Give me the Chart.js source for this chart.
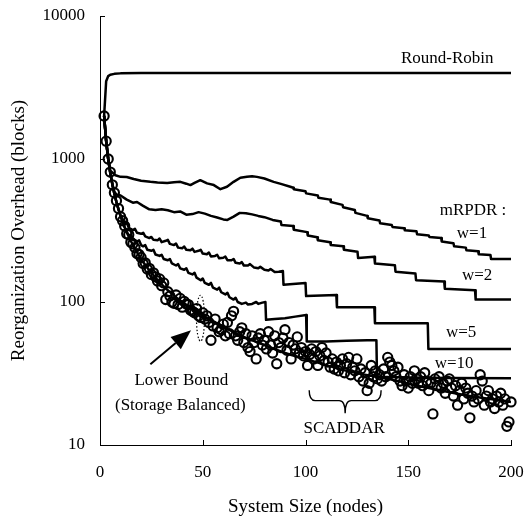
<!DOCTYPE html>
<html>
<head>
<meta charset="utf-8">
<script src="https://cdn.jsdelivr.net/npm/chart.js@4.4.0/dist/chart.umd.min.js"></script>
<style>
  html, body { margin: 0; padding: 0; background: #fff; }
  #wrap { width: 527px; height: 522px; }
</style>
</head>
<body>
<div id="wrap"><canvas id="chart" width="527" height="522"></canvas></div>
<script>
// Reorganization overhead vs system size (log y)

const xTicks = [0, 50, 100, 150, 200];
const yTicks = [10, 100, 1000, 10000];

// SCADDAR: one circle per system size
const nodes = [
  2, 3, 4, 5, 6, 7, 8, 9, 10,
  11, 12, 13, 14, 15, 16, 17, 18, 19, 20,
  21, 22, 23, 24, 25, 26, 27, 28, 29, 30,
  31, 32, 33, 34, 35, 36, 37, 38, 39, 40,
  41, 42, 43, 44, 45, 46, 47, 48, 49, 50,
  51, 52, 53, 54, 55, 56, 57, 58, 59, 60,
  61, 62, 63, 64, 65, 66, 67, 68, 69, 70,
  71, 72, 73, 74, 75, 76, 77, 78, 79, 80,
  81, 82, 83, 84, 85, 86, 87, 88, 89, 90,
  91, 92, 93, 94, 95, 96, 97, 98, 99, 100,
  101, 102, 103, 104, 105, 106, 107, 108, 109, 110,
  111, 112, 113, 114, 115, 116, 117, 118, 119, 120,
  121, 122, 123, 124, 125, 126, 127, 128, 129, 130,
  131, 132, 133, 134, 135, 136, 137, 138, 139, 140,
  141, 142, 143, 144, 145, 146, 147, 148, 149, 150,
  151, 152, 153, 154, 155, 156, 157, 158, 159, 160,
  161, 162, 163, 164, 165, 166, 167, 168, 169, 170,
  171, 172, 173, 174, 175, 176, 177, 178, 179, 180,
  181, 182, 183, 184, 185, 186, 187, 188, 189, 190,
  191, 192, 193, 194, 195, 196, 197, 198, 199, 200
];
const scaddar = [
  2000, 1333, 1000, 810, 660, 580, 510, 450, 395,
  370, 340, 300, 295, 262, 255, 240, 218, 215, 205,
  186, 188, 170, 172, 156, 160, 150, 140, 145, 130,
  136, 104, 118, 110, 100, 98, 112, 96, 106, 92,
  101, 97, 96, 88, 86, 84, 90, 80, 78, 84,
  76, 80, 72, 54, 68, 76, 66, 62, 64, 70,
  58, 72, 60, 80, 86, 58, 54, 62, 66, 52,
  60, 48, 45, 58, 52, 40, 56, 60, 50, 54,
  47, 62, 50, 44, 58, 37, 52, 48, 56, 64,
  46, 52, 40, 50, 47, 57, 44, 48, 42, 45,
  36, 43, 47, 40, 45, 36, 42, 48, 39, 44,
  38, 35, 40, 34, 38, 33, 36, 40, 32, 37,
  41, 31, 35, 33, 40, 30, 34, 28, 32, 24,
  27, 36, 30, 33, 29, 31, 28, 34, 30, 41,
  38, 36, 33, 30, 35, 28, 26, 31, 28, 25,
  30, 27, 33, 29, 27, 30, 26, 32, 28, 24,
  27, 16.5, 29, 26, 30, 25, 27, 23, 28, 29,
  25, 22, 26, 19, 24, 27, 21, 25, 23, 15.5,
  22, 20, 24, 21, 31, 28, 19, 22, 24, 20,
  21, 18, 22, 20, 23, 19, 21, 13.5, 14.5, 20
];

// curves as [nodes, blocks]
const roundRobin = [[2, 2000], [3, 3500], [4, 3800], [5, 3880], [7, 3940], [10, 3970], [20, 4000], [200, 4000]];

const lowerBound = [[2, 2000], [3, 1333], [4, 1000], [5, 800], [6, 667], [7, 571], [8, 500], [10, 400], [12, 333],
  [15, 267], [20, 200], [25, 160], [30, 133], [35, 114], [40, 100], [45, 89], [50, 80], [60, 67], [70, 57],
  [80, 50], [90, 44], [100, 40], [120, 33], [140, 29], [160, 25], [180, 22], [200, 20]];

const mrpdrW1 = [[2, 2000], [3, 1333], [4, 1000], [5, 830], [7.5, 770], [10, 750], [13, 748], [16.4, 725], [20, 705],
  [24.5, 692], [28, 685], [32.7, 680], [36, 688], [39.1, 692], [42, 672], [44, 657], [46, 680], [48.8, 711],
  [52.1, 675], [55.4, 657], [58.6, 615], [61.8, 640], [65, 692], [68.3, 740], [71.5, 752], [74, 758], [76.4, 750],
  [80, 730], [84.5, 692], [88, 670], [92.6, 640], [94, 630], [94.3, 615], [100, 595], [100.3, 575], [106, 555],
  [106.3, 535], [112, 520], [112.3, 500], [118, 478], [118.3, 460], [124, 440], [124.3, 420], [130, 400],
  [130.3, 385], [136, 372], [136.3, 355], [142, 345], [142.3, 335], [148, 328], [148.3, 318], [154, 312],
  [154.3, 298], [160, 292], [160.3, 285], [166, 280], [166.3, 265], [172, 258], [172.3, 245], [178, 240],
  [178.3, 230], [184, 226], [184.3, 216], [190, 213], [190.3, 200], [200, 200]];

const mrpdrW2 = [[2, 2000], [3, 1333], [4, 1000], [5, 800], [6, 667], [7, 590], [8, 565], [10, 555], [13, 520],
  [16, 495], [18, 500], [21, 470], [24, 445], [27, 440], [30, 445], [33, 438], [36, 425], [39, 430], [42, 408],
  [45, 412], [48, 425], [51, 415], [54, 400], [57, 390], [60, 378], [62, 375], [65, 395], [68, 420], [71, 418],
  [74, 410], [77, 400], [80, 392], [84, 375], [88, 365], [88.3, 345], [94, 340], [94.3, 320], [100.8, 308],
  [101.1, 292], [105.7, 284], [106, 270], [112, 262], [112.3, 250], [118.4, 245], [118.7, 232], [125.3, 225],
  [125.6, 203], [133.5, 207], [133.8, 186], [143.5, 181], [143.8, 163], [153.5, 158], [153.8, 142], [167.5, 139],
  [167.8, 124], [182.5, 121], [182.8, 104], [200, 104]];

const mrpdrW5 = [[2, 2000], [3, 1333], [4, 1000], [5, 800], [6, 667], [7, 571], [8, 500], [9, 445], [10, 400],
  [11, 380], [12, 355], [13, 360], [14, 330], [16, 318], [17, 325], [18, 305], [20, 300], [21, 305], [22, 288],
  [24, 280], [25, 285], [26, 272], [28, 270], [29, 278], [30, 262], [32, 268], [33, 272], [34, 255], [36, 250],
  [37, 256], [38, 240], [40, 238], [41, 244], [42, 232], [44, 230], [45, 236], [46, 224], [48, 228], [49, 232],
  [50, 218], [52, 216], [53, 222], [54, 208], [56, 210], [57, 214], [58, 202], [60, 204], [61, 208], [62, 196],
  [64, 196], [65, 200], [66, 188], [68, 186], [69, 190], [70, 180], [72, 180], [73, 184], [75, 174], [77, 172],
  [78, 176], [80, 168], [82, 166], [83, 170], [85, 162], [87, 163], [89, 165], [89.3, 132], [100, 136],
  [100.3, 110], [115, 112], [115.3, 92], [133.5, 92], [133.8, 71], [159.5, 71], [159.8, 47], [200, 47]];

const mrpdrW10 = [[2, 2000], [3, 1333], [4, 1000], [5, 800], [6, 667], [7, 571], [8, 500], [9, 444], [10, 400],
  [11, 364], [12, 333], [13, 310], [14, 292], [15, 295], [16, 272], [18, 265], [19, 270], [20, 250], [21, 245],
  [22, 250], [23, 232], [25, 228], [26, 232], [27, 215], [29, 210], [30, 214], [31, 200], [33, 196], [34, 200],
  [35, 186], [37, 180], [38, 184], [39, 172], [41, 168], [42, 172], [43, 160], [45, 156], [46, 160], [47, 148],
  [49, 142], [50, 146], [51, 136], [53, 132], [54, 136], [55, 126], [57, 122], [58, 126], [59, 117], [61, 113],
  [62, 116], [63, 108], [65, 104], [66, 107], [67, 100], [69, 97], [71, 99], [72, 96], [74, 97], [76, 100],
  [77, 97], [79, 99], [80.5, 100], [80.8, 75], [85, 76], [90, 77], [95, 79], [100.3, 81], [100.6, 53], [110, 53],
  [120, 53.5], [130, 54], [134.5, 54], [134.8, 30], [150, 29.6], [170, 29.4], [200, 29.3]];

const serif = '"Liberation Serif", "Times New Roman", serif';

// texts placed in data coordinates
const notes = [
  { text: 'Round-Robin', x: 169, y: 5080 },
  { text: 'mRPDR :', x: 181.5, y: 439 },
  { text: 'w=1', x: 181, y: 303 },
  { text: 'w=2', x: 183.5, y: 154 },
  { text: 'w=5', x: 175.7, y: 61.5 },
  { text: 'w=10', x: 172.3, y: 37.3 },
  { text: 'Lower Bound', x: 39.6, y: 28.4 },
  { text: '(Storage Balanced)', x: 39.1, y: 19 },
  { text: 'SCADDAR', x: 118.8, y: 13.1 }
];

function curve(label, pts, smooth) {
  return {
    label: label,
    data: pts.map(p => ({ x: p[0], y: p[1] })),
    borderColor: '#000',
    borderWidth: 2.5,
    borderJoinStyle: 'round',
    pointRadius: 0,
    fill: false,
    tension: 0,
    cubicInterpolationMode: smooth ? 'monotone' : 'default'
  };
}

const extras = {
  id: 'extras',
  afterDatasetsDraw(chart) {
    const { ctx, chartArea: area } = chart;
    const sx = chart.scales.x, sy = chart.scales.y;
    ctx.save();
    ctx.strokeStyle = '#000';
    ctx.fillStyle = '#000';
    ctx.lineWidth = 1;

    // inward tick marks
    yTicks.forEach(v => {
      const py = Math.round(sy.getPixelForValue(v)) + 0.5;
      ctx.beginPath();
      ctx.moveTo(area.left, py);
      ctx.lineTo(area.left + 5, py);
      ctx.stroke();
    });
    xTicks.slice(1).forEach(v => {
      const px = Math.round(sx.getPixelForValue(v)) + 0.5;
      ctx.beginPath();
      ctx.moveTo(px, area.bottom);
      ctx.lineTo(px, area.bottom - 5);
      ctx.stroke();
    });

    // labels
    ctx.font = '17px ' + serif;
    ctx.textAlign = 'center';
    ctx.textBaseline = 'middle';
    notes.forEach(n => ctx.fillText(n.text, sx.getPixelForValue(n.x), sy.getPixelForValue(n.y)));

    // arrow to the lower bound
    const ax0 = sx.getPixelForValue(24.5), ay0 = sy.getPixelForValue(36.7);
    const ax1 = sx.getPixelForValue(44.3), ay1 = sy.getPixelForValue(63.5);
    const ang = Math.atan2(ay1 - ay0, ax1 - ax0);
    const hl = 20, hw = 8;
    const bx = ax1 - hl * Math.cos(ang), by = ay1 - hl * Math.sin(ang);
    ctx.lineWidth = 2;
    ctx.beginPath();
    ctx.moveTo(ax0, ay0);
    ctx.lineTo(bx, by);
    ctx.stroke();
    ctx.beginPath();
    ctx.moveTo(ax1, ay1);
    ctx.lineTo(bx + hw * Math.sin(ang), by - hw * Math.cos(ang));
    ctx.lineTo(bx - hw * Math.sin(ang), by + hw * Math.cos(ang));
    ctx.closePath();
    ctx.fill();

    // brace over SCADDAR
    const xl = sx.getPixelForValue(101.8), xr = sx.getPixelForValue(136.8), xm = (xl + xr) / 2;
    const yTop = sy.getPixelForValue(24.1), yTip = sy.getPixelForValue(16.7);
    const yBar = yTop + (yTip - yTop) * 0.45;
    ctx.lineWidth = 1.4;
    ctx.beginPath();
    ctx.moveTo(xl, yTop);
    ctx.quadraticCurveTo(xl, yBar, xl + 6, yBar);
    ctx.lineTo(xm - 6, yBar);
    ctx.quadraticCurveTo(xm, yBar, xm, yTip);
    ctx.quadraticCurveTo(xm, yBar, xm + 6, yBar);
    ctx.lineTo(xr - 6, yBar);
    ctx.quadraticCurveTo(xr, yBar, xr, yTop);
    ctx.stroke();

    // dotted ellipse near 50 nodes
    ctx.lineWidth = 1.2;
    ctx.setLineDash([1.5, 2]);
    ctx.beginPath();
    ctx.ellipse(sx.getPixelForValue(48.9), sy.getPixelForValue(77), 4, 23, 0, 0, Math.PI * 2);
    ctx.stroke();
    ctx.restore();
  }
};

new Chart(document.getElementById('chart'), {
  type: 'line',
  data: {
    datasets: [
      {
        label: 'SCADDAR',
        data: scaddar.map((v, i) => ({ x: nodes[i], y: v })),
        showLine: false,
        pointStyle: 'circle',
        pointRadius: 4.6,
        pointBorderWidth: 2.1,
        pointBorderColor: '#000',
        pointBackgroundColor: 'rgba(0,0,0,0)',
        clip: 10
      },
      curve('Round-Robin', roundRobin),
      curve('Lower Bound', lowerBound, true),
      curve('w=1', mrpdrW1),
      curve('w=2', mrpdrW2),
      curve('w=5', mrpdrW5),
      curve('w=10', mrpdrW10)
    ]
  },
  options: {
    responsive: false,
    animation: false,
    devicePixelRatio: 1,
    layout: { padding: { top: 16, right: 16, left: 0, bottom: 0 } },
    plugins: { legend: { display: false }, tooltip: { enabled: false } },
    scales: {
      x: {
        type: 'linear',
        min: 0,
        max: 200,
        afterBuildTicks: axis => { axis.ticks = xTicks.map(v => ({ value: v })); },
        afterFit: scale => { scale.height = 77; scale.paddingLeft = 0; scale.paddingRight = 0; },
        grid: { display: false },
        border: { display: true, color: '#000', width: 1 },
        ticks: { color: '#000', font: { family: serif, size: 17 }, padding: 9, maxRotation: 0 },
        title: { display: true, text: 'System Size (nodes)', color: '#000', font: { family: serif, size: 19 }, padding: { top: 0, bottom: 4 } }
      },
      y: {
        type: 'logarithmic',
        min: 10,
        max: 10000,
        afterBuildTicks: axis => { axis.ticks = yTicks.map(v => ({ value: v })); },
        afterFit: scale => { scale.width = 100; scale.paddingTop = 0; scale.paddingBottom = 0; },
        grid: { display: false },
        border: { display: true, color: '#000', width: 1 },
        ticks: { color: '#000', font: { family: serif, size: 17 }, padding: 7, callback: v => String(v) },
        title: { display: true, text: 'Reorganization Overhead (blocks)', color: '#000', font: { family: serif, size: 19 }, padding: { top: 8, bottom: 0 } }
      }
    }
  },
  plugins: [extras]
});
</script>
</body>
</html>
